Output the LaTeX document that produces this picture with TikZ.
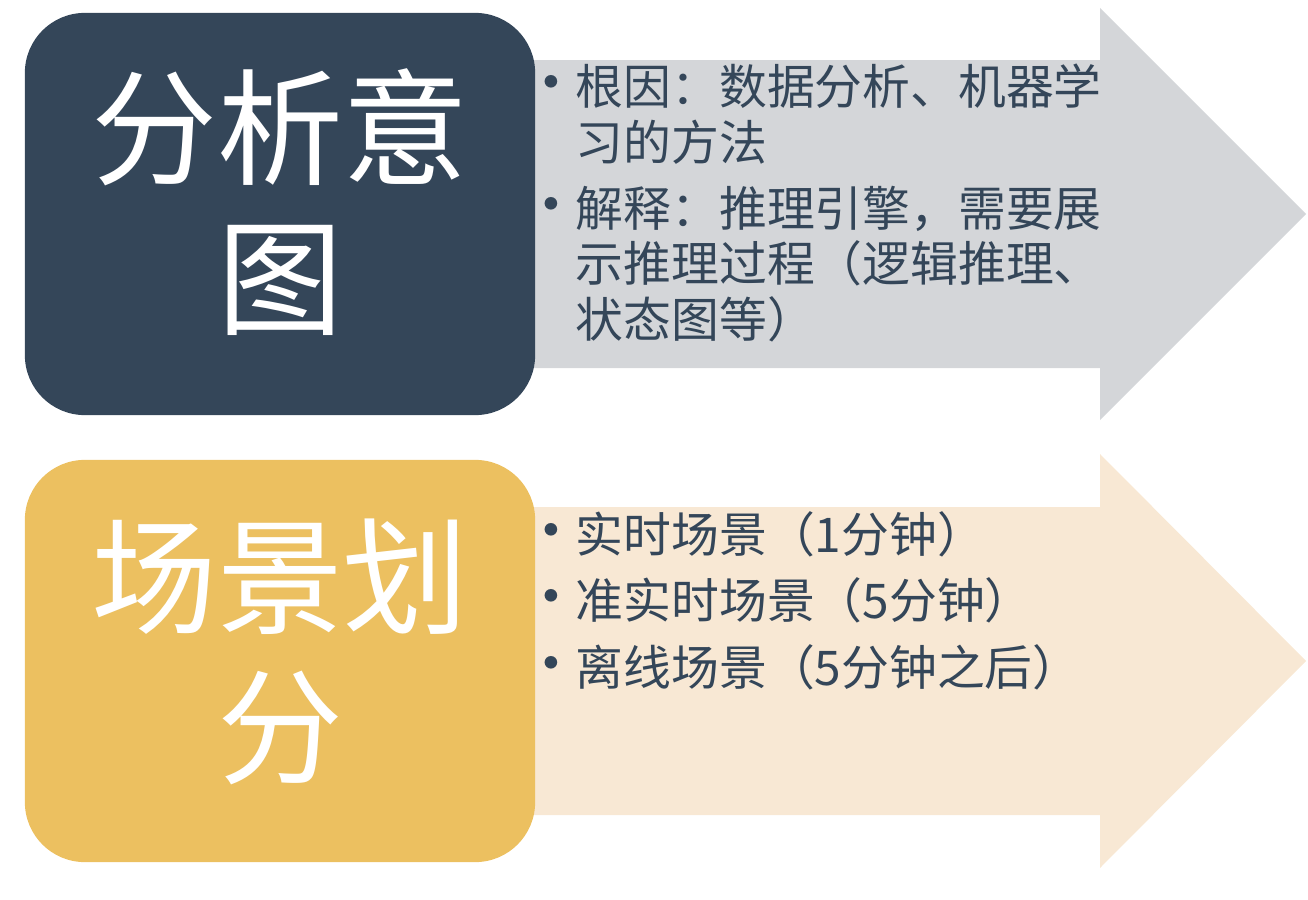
\documentclass[tikz,border=0pt]{standalone}
\usepackage{fontspec}
\setmainfont{Noto Sans CJK SC}
\usepackage{tikz}

\definecolor{slate}{HTML}{344659}
\definecolor{mustard}{HTML}{ECC060}
\definecolor{ashgray}{HTML}{D4D6D9}
\definecolor{peach}{HTML}{F8E8D4}

\newcommand{\itembul}{\llap{\scalebox{1.25}{•}\hspace{-1.5pt}}}

\begin{document}
\begin{tikzpicture}[x=0.01cm,y=-0.01cm]
    \tikzstyle{bigbox}=[rounded corners=6mm, minimum width=5.1cm, minimum height=4.02cm, inner sep=0pt]
    \tikzstyle{bigtext}=[inner sep=0pt, text=white, align=center, font=\fontsize{35.8}{42.7}\selectfont]
    \tikzstyle{item}=[anchor=north west, inner sep=0pt, text=slate, align=left, font=\fontsize{13.6}{15.9}\selectfont]
    \useasboundingbox (0,0) rectangle (1308,900);

    % arrows behind the boxes
    \fill[ashgray] (520,60) -- (1100,60) -- (1100,8) -- (1306,214) -- (1100,420) -- (1100,368) -- (520,368) -- cycle;
    \fill[peach] (520,507) -- (1100,507) -- (1100,454) -- (1306,661) -- (1100,868) -- (1100,815) -- (520,815) -- cycle;

    \node[bigbox, fill=slate] (intent) at (280, 214) {};
    \node[bigbox, fill=mustard] (scene) at (280, 661) {};
    \node[bigtext] (intenttxt) at (280, 202) {分析意\\图};
    \node[bigtext] (scenetxt) at (280, 652) {场景划\\分};

	\node[item] (rootcause) at (575, 63) {\itembul 根因：数据分析、机器学\\习的方法};
	\node[item] (explain) at (575, 185) {\itembul 解释：推理引擎，需要展\\示推理过程（逻辑推理、\\状态图等）};

	\node[item] (realtime) at (575, 511) {\itembul 实时场景（1分钟）};
	\node[item] (nearreal) at (575, 577) {\itembul 准实时场景（5分钟）};
	\node[item] (offline) at (575, 644) {\itembul 离线场景（5分钟之后）};
\end{tikzpicture}
\end{document}
